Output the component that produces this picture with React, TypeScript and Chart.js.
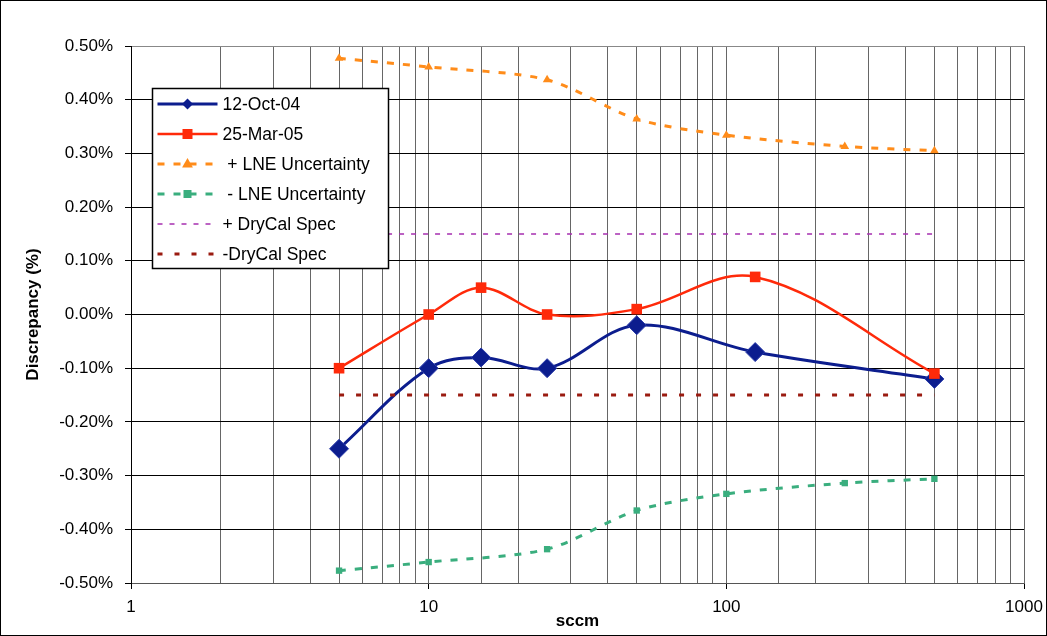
import React, { useEffect, useRef } from 'react';
import { Chart, registerables } from 'chart.js';

Chart.register(...registerables);

// ---- data ----
const xMeasured = [5, 10, 15, 25, 50, 125, 500];
const oct04 = [-0.25, -0.10, -0.08, -0.10, -0.02, -0.07, -0.12];
const mar05 = [-0.10, 0.00, 0.05, 0.00, 0.01, 0.07, -0.11];
const xLne = [5, 10, 25, 50, 100, 250, 500];
const lnePlus = [0.477, 0.461, 0.437, 0.364, 0.334, 0.313, 0.305];
const lneMinus = [-0.477, -0.461, -0.437, -0.365, -0.334, -0.314, -0.306];
const xSpec = [5, 500];
const specPlus = [0.15, 0.15];
const specMinus = [-0.15, -0.15];
const seriesLabels = ['12-Oct-04', '25-Mar-05', ' + LNE Uncertainty', ' - LNE Uncertainty', '+ DryCal Spec', '-DryCal Spec'];
const xTickLabels = [1, 10, 100, 1000];
const yMin = -0.5;
const yMax = 0.5;
const yStep = 0.1;

const FONT = '"Liberation Sans", Arial, Helvetica, sans-serif';

const pts = (xs: number[], ys: number[]) => xs.map((x, i) => ({ x, y: ys[i] }));

const isMajor = (v: number) => xTickLabels.some((t) => Math.abs(t - v) < 1e-6 * t);

const drawMarker = (ctx: CanvasRenderingContext2D, style: string, x: number, y: number, r: number, color: string) => {
  ctx.fillStyle = color;
  ctx.beginPath();
  if (style === 'rectRot') {
    ctx.moveTo(x, y - r);
    ctx.lineTo(x + r, y);
    ctx.lineTo(x, y + r);
    ctx.lineTo(x - r, y);
    ctx.closePath();
  } else if (style === 'rect') {
    ctx.rect(x - r, y - r, 2 * r, 2 * r);
  } else if (style === 'triangle') {
    ctx.moveTo(x, y - r);
    ctx.lineTo(x + r * 0.9, y + r * 0.6);
    ctx.lineTo(x - r * 0.9, y + r * 0.6);
    ctx.closePath();
  } else {
    return;
  }
  ctx.fill();
};

const legendMarkerSize: Record<number, number> = { 0: 5.5, 1: 5, 2: 6, 3: 4, 4: 0, 5: 0 };

const boxLegend = {
  id: 'boxLegend',
  afterDatasetsDraw(chart: any) {
    const ctx: CanvasRenderingContext2D = chart.ctx;
    const { left, top } = chart.chartArea;
    const bx = left + 21.5;
    const by = top + 42.5;
    const bw = 236;
    const bh = 180;
    ctx.save();
    ctx.fillStyle = '#fff';
    ctx.fillRect(bx, by, bw, bh);
    ctx.lineWidth = 1.5;
    ctx.strokeStyle = '#000';
    ctx.strokeRect(bx, by, bw, bh);
    chart.data.datasets.forEach((ds: any, i: number) => {
      const y = by + 15.5 + i * 30;
      ctx.setLineDash(ds.borderDash || []);
      ctx.strokeStyle = ds.borderColor;
      ctx.lineWidth = ds.borderWidth;
      ctx.beginPath();
      ctx.moveTo(bx + 5, y);
      ctx.lineTo(bx + 65, y);
      ctx.stroke();
      ctx.setLineDash([]);
      if (ds.pointRadius > 0) {
        drawMarker(ctx, ds.pointStyle, bx + 35, y, legendMarkerSize[i], ds.borderColor);
      }
      ctx.fillStyle = '#000';
      ctx.font = `17.5px ${FONT}`;
      ctx.textBaseline = 'middle';
      ctx.textAlign = 'left';
      ctx.fillText(ds.label, bx + 70, y + 1);
    });
    ctx.restore();
  },
};

const frame = {
  id: 'frame',
  afterDraw(chart: any) {
    const ctx: CanvasRenderingContext2D = chart.ctx;
    ctx.save();
    ctx.strokeStyle = '#000';
    ctx.lineWidth = 1;
    ctx.strokeRect(0.5, 0.5, chart.width - 1, chart.height - 1);
    ctx.restore();
  },
};

export default function App() {
  const ref = useRef<HTMLCanvasElement>(null);

  useEffect(() => {
    document.body.style.margin = '0';
    const canvas = ref.current;
    if (!canvas) return;
    const chart = new Chart(canvas, {
      type: 'line',
      data: {
        datasets: [
          {
            label: seriesLabels[0],
            data: pts(xMeasured, oct04),
            borderColor: '#0C1D8E',
            backgroundColor: '#0C1D8E',
            borderWidth: 3,
            pointStyle: 'rectRot',
            pointRadius: 9.5,
            pointBorderWidth: 1,
            pointBorderColor: '#2A3BA8',
            tension: 0.35,
            order: 6,
          },
          {
            label: seriesLabels[1],
            data: pts(xMeasured, mar05),
            borderColor: '#FF2A0A',
            backgroundColor: '#FF2A0A',
            borderWidth: 2.5,
            pointStyle: 'rect',
            pointRadius: 7.5,
            pointBorderWidth: 0,
            tension: 0.35,
            order: 5,
          },
          {
            label: seriesLabels[2],
            data: pts(xLne, lnePlus),
            borderColor: '#FF8C1A',
            backgroundColor: '#FF8C1A',
            borderWidth: 3,
            borderDash: [7, 9],
            pointStyle: 'triangle',
            pointRadius: 5,
            pointBorderWidth: 0,
            tension: 0.3,
            order: 4,
          },
          {
            label: seriesLabels[3],
            data: pts(xLne, lneMinus),
            borderColor: '#3AAE7E',
            backgroundColor: '#3AAE7E',
            borderWidth: 3,
            borderDash: [7, 9],
            pointStyle: 'rect',
            pointRadius: 4.5,
            pointBorderWidth: 0,
            tension: 0.3,
            order: 3,
          },
          {
            label: seriesLabels[4],
            data: pts(xSpec, specPlus),
            borderColor: '#A62FB0',
            backgroundColor: '#A62FB0',
            borderWidth: 1.5,
            borderDash: [5, 7],
            pointRadius: 0,
            tension: 0,
            order: 2,
          },
          {
            label: seriesLabels[5],
            data: pts(xSpec, specMinus),
            borderColor: '#9A1B10',
            backgroundColor: '#9A1B10',
            borderWidth: 3,
            borderDash: [5, 12],
            pointRadius: 0,
            tension: 0,
            order: 1,
          },
        ],
      },
      options: {
        responsive: false,
        animation: false,
        devicePixelRatio: 1,
        layout: { padding: { top: 46, right: 23, left: 0, bottom: 0 } },
        plugins: {
          legend: { display: false },
          tooltip: { enabled: false },
        },
        scales: {
          x: {
            type: 'logarithmic',
            min: 1,
            max: 1000,
            afterFit: (s: any) => {
              s.height = 53;
              s.paddingLeft = 0;
              s.paddingRight = 0;
            },
            border: { display: true, color: '#555', width: 1 },
            grid: {
              color: '#666',
              lineWidth: 1,
              drawTicks: true,
              tickLength: 6,
              tickColor: (c: any) => (c.tick && isMajor(c.tick.value) ? '#000' : 'rgba(0,0,0,0)'),
            },
            ticks: {
              autoSkip: false,
              maxRotation: 0,
              padding: 8,
              color: '#000',
              font: { size: 17, family: FONT },
              callback: (v: any) => (isMajor(Number(v)) ? String(Math.round(Number(v))) : ''),
            },
            title: {
              display: true,
              text: 'sccm',
              color: '#000',
              font: { size: 17, weight: 'bold', family: FONT },
              padding: { top: 0, bottom: 4 },
            },
          },
          y: {
            type: 'linear',
            min: yMin,
            max: yMax,
            afterFit: (s: any) => {
              s.width = 131;
            },
            border: { display: true, color: '#000', width: 1 },
            grid: {
              color: (c: any) => (c.tick && Math.abs(c.tick.value - yMax) < 1e-9 ? '#888' : '#000'),
              lineWidth: 1,
              tickLength: 6,
              tickColor: '#000',
            },
            ticks: {
              stepSize: yStep,
              padding: 12,
              color: '#000',
              font: { size: 17, family: FONT },
              callback: (v: any) => {
                const n = Math.abs(Number(v)) < 1e-9 ? 0 : Number(v);
                return n.toFixed(2) + '%';
              },
            },
            title: {
              display: true,
              text: 'Discrepancy (%)',
              color: '#000',
              font: { size: 17, weight: 'bold', family: FONT },
              padding: { top: 23, bottom: 0 },
            },
          },
        },
      },
      plugins: [boxLegend, frame],
    } as any);
    return () => chart.destroy();
  }, []);

  return (
    <div style={{ width: 1047, height: 636 }}>
      <canvas ref={ref} width={1047} height={636} style={{ display: 'block' }} />
    </div>
  );
}
